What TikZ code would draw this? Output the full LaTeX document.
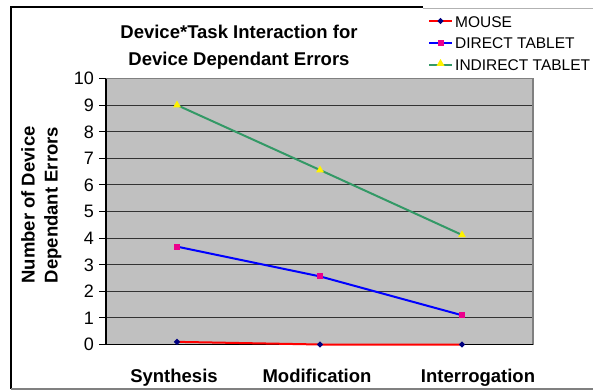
\documentclass[tikz,border=0pt]{standalone}
\usepackage{fontspec}
\setmainfont{Liberation Sans}
\usetikzlibrary{shapes.geometric}
\definecolor{plotgray}{HTML}{C0C0C0}
\definecolor{edgegray}{HTML}{808080}
\definecolor{navyblue}{HTML}{000080}
\definecolor{seagreen}{HTML}{339966}
\begin{document}
\begin{tikzpicture}[x=1pt,y=-1pt,
  titlefont/.style={font=\fontsize{18.5}{20}\selectfont\bfseries},
  ticklab/.style={font=\fontsize{18}{19}\selectfont, anchor=base east, inner sep=0},
  catlab/.style={font=\fontsize{18.5}{20}\selectfont\bfseries, anchor=base, inner sep=0},
  leglab/.style={font=\fontsize{15.5}{17}\selectfont, anchor=base west, inner sep=0},
  grid/.style={draw=black!80, line width=1.1pt},
  mouseline/.style={draw=red, line width=2pt},
  directline/.style={draw=blue, line width=2pt},
  indirectline/.style={draw=seagreen, line width=2pt},
  mousemk/.style={diamond, fill=navyblue, inner sep=0, minimum size=6.5pt},
  directmk/.style={rectangle, fill=magenta, inner sep=0, minimum size=6pt},
  indirectmk/.style={regular polygon, regular polygon sides=3, fill=yellow, inner sep=0, minimum size=9pt},
]
\useasboundingbox (0,0) rectangle (593,391);
\fill[white] (0,0) rectangle (593,391);
% chart frame
\draw[black, line width=1.1pt] (423,7) -- (11,7) -- (11,389);
\draw[edgegray, line width=1.5pt] (11,389) -- (593,389);
\draw[black!30, line width=0.6pt] (423,8.5) -- (593,8.5);
% plot area
\fill[plotgray] (106,78.5) rectangle (533,344.5);
\foreach \v in {1,...,9} {
  \draw[grid] (106,{344.5-26.6*\v}) -- (533,{344.5-26.6*\v});
}
\draw[edgegray, line width=1.5pt] (106,78.5) -- (533,78.5) -- (533,344.5);
\draw[black, line width=1.1pt] (106,78.5) -- (106,344.5) -- (533,344.5);
\foreach \v in {0,...,10} {
  \draw[black, line width=1.1pt] (99,{344.5-26.6*\v}) -- (106,{344.5-26.6*\v});
  \node[ticklab] (t\v) at (94,{344.5-26.6*\v+6.3}) {\v};
}
% titles
\node[titlefont, anchor=base, inner sep=0] (title1) at (239,38) {Device*Task Interaction for};
\node[titlefont, anchor=base, inner sep=0] (title2) at (239,65) {Device Dependant Errors};
\node[titlefont, anchor=base, inner sep=0, rotate=90] (ytitle1) at (34.5,205) {Number of Device};
\node[titlefont, anchor=base, inner sep=0, rotate=90] (ytitle2) at (57.5,205) {Dependant Errors};
\node[catlab] (c1) at (174,382) {Synthesis};
\node[catlab] (c2) at (317,382) {Modification};
\node[catlab] (c3) at (478,382) {Interrogation};
% data points
\coordinate (m1) at (177,{344.5-26.6*0.1});
\coordinate (m2) at (320,344.5);
\coordinate (m3) at (462,344.5);
\coordinate (d1) at (177,{344.5-26.6*3.68});
\coordinate (d2) at (320,{344.5-26.6*2.56});
\coordinate (d3) at (462,{344.5-26.6*1.1});
\coordinate (i1) at (177,{344.5-26.6*9.0});
\coordinate (i2) at (320,{344.5-26.6*6.56});
\coordinate (i3) at (462,{344.5-26.6*4.12});
\draw[mouseline] (m1) -- (m2) -- (m3);
\draw[directline] (d1) -- (d2) -- (d3);
\draw[indirectline] (i1) -- (i2) -- (i3);
\foreach \p in {m1,m2,m3} \node[mousemk] at (\p) {};
\foreach \p in {d1,d2,d3} \node[directmk] at (\p) {};
\foreach \p in {i1,i2,i3} \node[indirectmk] at (\p) {};
% legend
\coordinate (lm0) at (429,21);  \coordinate (lm1) at (452,21);
\coordinate (ld0) at (429,42.5);  \coordinate (ld1) at (452,42.5);
\coordinate (li0) at (429,64.5);  \coordinate (li1) at (452,64.5);
\draw[mouseline] (lm0) -- (lm1);
\draw[directline] (ld0) -- (ld1);
\draw[indirectline] (li0) -- (li1);
\node[mousemk] at (440.5,21) {};
\node[directmk] at (440.5,42.5) {};
\node[indirectmk] at (440.5,63.5) {};
\node[leglab] (lg1) at (455,27) {MOUSE};
\node[leglab] (lg2) at (455,48.5) {DIRECT TABLET};
\node[leglab] (lg3) at (455,70.5) {INDIRECT TABLET};
\end{tikzpicture}
\end{document}
